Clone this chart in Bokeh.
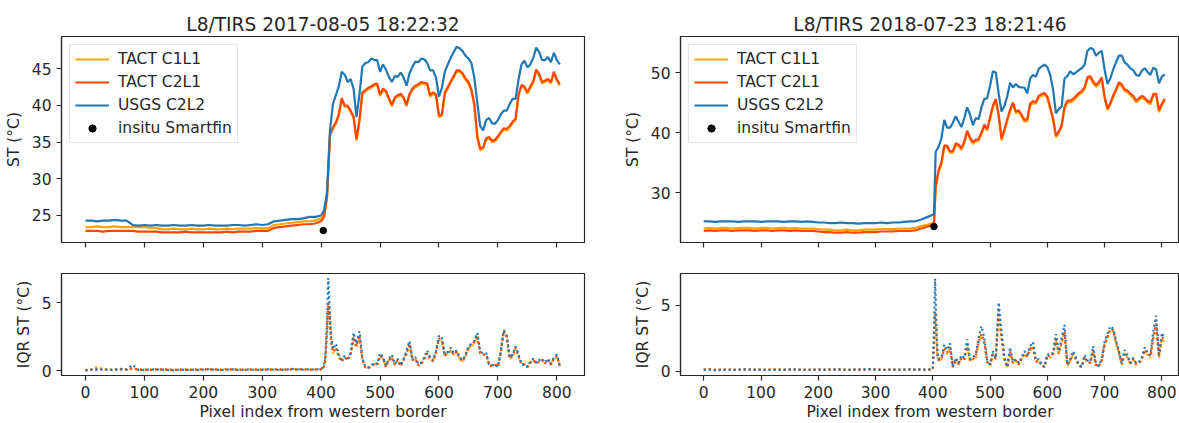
from bokeh.plotting import figure
from bokeh.models import Range1d, FixedTicker, Legend, LegendItem
from bokeh.layouts import row, column
from bokeh.embed import file_html
from bokeh.resources import INLINE

FONT = "DejaVu Sans"
C1 = "#FFA500"   # TACT C1L1
C2 = "#FF4500"   # TACT C2L1
CU = "#1f77b4"   # USGS C2L2
INK = "#262626"

titles = ["L8/TIRS 2017-08-05 18:22:32", "L8/TIRS 2018-07-23 18:21:46"]
labels = ["TACT C1L1", "TACT C2L1", "USGS C2L2", "insitu Smartfin"]
x_ticks = [0, 100, 200, 300, 400, 500, 600, 700, 800]

# ---------------- left scene (2017-08-05) : ST ----------------
L_x = list(range(0, 401, 10)) + list(range(405, 806, 5))
L_usgs = [24.3, 24.3, 24.2, 24.3, 24.3, 24.4, 24.3, 24.3, 23.7, 23.6,
          23.7, 23.6, 23.7, 23.6, 23.6, 23.7, 23.6, 23.6, 23.7, 23.6,
          23.6, 23.7, 23.6, 23.6, 23.6, 23.7, 23.7, 23.6, 23.7, 23.8,
          23.7, 23.8, 24.2, 24.3, 24.4, 24.5, 24.5, 24.6, 24.8, 24.8,
          25.0,
          25.7, 28.2, 36.6, 40.2, 41.4, 42.6, 44.6, 44.2, 43.2, 43.6,
          42.3, 38.4, 41.5, 45.3, 45.8, 45.9, 46.4, 46.2, 46.2, 44.6,
          45.6, 44.9, 43.9, 43.2, 44.0, 43.9, 44.5, 43.8, 42.7, 44.4,
          45.3, 46.0, 45.9, 46.4, 46.3, 45.8, 44.8, 44.8, 43.8, 41.2,
          42.4, 44.6, 45.6, 46.5, 47.3, 48.0, 47.8, 47.4, 46.8, 46.4,
          45.8, 43.8, 40.4, 37.2, 36.6, 38.0, 38.3, 37.6, 37.5, 38.0,
          38.8, 39.3, 39.3, 40.2, 40.9, 40.9, 43.5, 45.6, 46.1, 45.2,
          45.6, 46.5, 47.9, 47.3, 46.2, 46.2, 46.6, 45.9, 47.2, 46.2,
          45.6]
L_c2l1 = [22.9, 22.9, 22.9, 22.8, 22.9, 22.9, 22.9, 22.9, 22.9, 22.8,
          22.8, 22.8, 22.8, 22.7, 22.7, 22.7, 22.7, 22.8, 22.7, 22.7,
          22.7, 22.7, 22.7, 22.7, 22.8, 22.7, 22.8, 22.8, 22.8, 22.9,
          22.9, 22.9, 23.3, 23.4, 23.5, 23.6, 23.7, 23.8, 23.8, 23.9,
          24.2,
          24.8, 27.5, 36.1, 37.0, 37.7, 38.8, 41.0, 40.0, 40.0, 39.3,
          38.5, 35.4, 38.0, 41.8, 42.1, 42.4, 42.6, 42.9, 43.0, 41.5,
          42.3, 42.0, 41.0, 40.1, 41.1, 41.4, 41.6, 41.1, 40.1, 41.6,
          42.3, 42.7, 42.9, 43.2, 43.1, 43.0, 41.4, 41.8, 41.5, 38.6,
          38.8, 41.8, 42.5, 43.3, 44.0, 44.8, 44.8, 44.4, 43.7, 43.2,
          42.2, 40.2, 35.8, 34.1, 34.3, 35.5, 35.7, 35.2, 35.3, 35.8,
          36.4, 36.9, 36.8, 37.2, 37.8, 38.2, 41.5, 42.8, 42.6, 41.8,
          42.6, 43.3, 44.9, 44.3, 43.2, 43.4, 43.6, 43.2, 44.6, 43.6,
          42.9]
L_c1l1 = [23.4, 23.4, 23.5, 23.4, 23.4, 23.5, 23.4, 23.4, 23.4, 23.4,
          23.4, 23.3, 23.3, 23.1, 23.1, 23.2, 23.1, 23.1, 23.2, 23.1,
          23.1, 23.2, 23.1, 23.1, 23.2, 23.1, 23.2, 23.2, 23.2, 23.3,
          23.2, 23.3, 23.7, 23.8, 23.9, 24.0, 24.1, 24.2, 24.2, 24.3,
          24.6,
          25.0, 27.6, 35.9, 36.8, 37.5, 38.6, 40.8, 39.8, 39.8, 39.1,
          38.3, 35.2, 37.8, 41.6, 41.9, 42.2, 42.4, 42.7, 42.8, 41.3,
          42.1, 41.8, 40.8, 39.9, 40.9, 41.2, 41.4, 40.9, 39.9, 41.4,
          42.1, 42.5, 42.7, 43.0, 42.9, 42.8, 41.2, 41.6, 41.3, 38.4,
          38.6, 41.6, 42.3, 43.1, 43.8, 44.6, 44.6, 44.2, 43.5, 43.0,
          42.0, 40.0, 35.6, 33.9, 34.1, 35.3, 35.5, 35.0, 35.1, 35.6,
          36.2, 36.7, 36.6, 37.0, 37.6, 38.0, 41.3, 42.6, 42.4, 41.6,
          42.4, 43.1, 44.7, 44.1, 43.0, 43.2, 43.4, 43.0, 44.4, 43.4,
          42.7]
L_insitu_x = [403.6]
L_insitu_y = [22.94]

# ---------------- right scene (2018-07-23) : ST ----------------
R_x = list(range(0, 401, 10)) + [402] + list(range(405, 806, 5))
R_usgs = [25.2, 25.2, 25.1, 25.2, 25.2, 25.2, 25.1, 25.2, 25.2, 25.2,
          25.1, 25.2, 25.2, 25.2, 25.1, 25.2, 25.2, 25.1, 25.2, 25.1,
          25.0, 25.0, 24.9, 24.9, 25.0, 24.9, 24.9, 24.8, 24.9, 24.9,
          24.9, 25.0, 24.9, 25.0, 25.0, 25.1, 25.2, 25.2, 25.5, 25.9,
          26.3, 26.4,
          36.8, 37.6, 39.0, 42.1, 40.8, 40.8, 41.6, 42.7, 41.8, 40.9,
          42.4, 44.2, 43.0, 41.2, 42.4, 42.2, 44.2, 45.6, 45.7, 47.8,
          50.2, 50.0, 46.5, 43.5, 44.4, 46.0, 48.3, 47.5, 48.1, 47.6,
          47.5, 47.5, 46.5, 49.0, 49.6, 49.3, 50.6, 51.0, 51.3, 50.9,
          49.6, 47.2, 43.2, 43.9, 44.3, 49.0, 49.4, 50.2, 49.7, 50.0,
          50.4, 50.7, 51.3, 53.6, 54.1, 53.9, 52.8, 53.3, 53.6, 50.5,
          48.1, 49.0, 50.5, 51.7, 52.8, 52.8, 51.7, 51.3, 50.7, 50.4,
          49.6, 49.4, 50.3, 50.7, 50.1, 49.6, 50.8, 50.5, 48.2, 49.3,
          49.7]
R_c2l1 = [23.6, 23.7, 23.6, 23.7, 23.7, 23.6, 23.7, 23.7, 23.7, 23.6,
          23.7, 23.7, 23.6, 23.7, 23.7, 23.6, 23.7, 23.6, 23.6, 23.6,
          23.5, 23.4, 23.4, 23.3, 23.3, 23.4, 23.3, 23.3, 23.4, 23.4,
          23.4, 23.5, 23.5, 23.5, 23.6, 23.6, 23.6, 23.7, 24.0, 24.3,
          24.6, 24.6,
          31.0, 33.7, 35.0, 37.8, 37.8, 36.9, 36.9, 38.2, 38.0, 37.4,
          38.5, 40.3, 39.2, 38.4, 38.8, 38.9, 40.0, 41.3, 40.6, 42.5,
          44.5, 45.6, 43.0, 39.0, 40.5, 42.2, 43.8, 45.0, 43.5, 43.7,
          43.0, 42.1, 42.2, 44.8, 45.2, 45.1, 46.1, 46.4, 46.6, 46.0,
          44.2, 42.4, 39.5, 40.2, 41.2, 44.3, 45.3, 45.3, 45.6, 46.1,
          46.6, 46.9, 47.5, 49.2, 49.4, 48.5, 47.9, 48.4, 49.2, 46.0,
          44.0, 44.9, 46.2, 47.2, 48.4, 48.0, 47.2, 47.0, 46.5, 46.1,
          45.3, 45.7, 46.1, 45.8, 45.3, 45.0, 46.4, 46.5, 43.7, 44.8,
          45.6]
R_c1l1 = [24.0, 24.1, 24.0, 24.1, 24.1, 24.0, 24.1, 24.1, 24.1, 24.0,
          24.1, 24.1, 24.0, 24.1, 24.1, 24.0, 24.1, 24.0, 24.0, 24.0,
          23.9, 23.8, 23.8, 23.7, 23.7, 23.8, 23.7, 23.7, 23.8, 23.8,
          23.8, 23.9, 23.9, 23.9, 24.0, 24.0, 24.0, 24.1, 24.4, 24.6,
          24.9, 24.9,
          30.8, 33.4, 34.7, 37.5, 37.5, 36.6, 36.6, 37.9, 37.7, 37.1,
          38.2, 40.0, 38.9, 38.1, 38.5, 38.6, 39.7, 41.0, 40.3, 42.2,
          44.2, 45.3, 42.7, 38.7, 40.2, 41.9, 43.5, 44.7, 43.2, 43.4,
          42.7, 41.8, 41.9, 44.5, 44.9, 44.8, 45.8, 46.1, 46.3, 45.7,
          43.9, 42.1, 39.2, 39.9, 40.9, 44.0, 45.0, 45.0, 45.3, 45.8,
          46.3, 46.6, 47.2, 48.9, 49.1, 48.2, 47.6, 48.1, 48.9, 45.7,
          43.7, 44.6, 45.9, 46.9, 48.1, 47.7, 46.9, 46.7, 46.2, 45.8,
          45.0, 45.4, 45.8, 45.5, 45.0, 44.7, 46.1, 46.2, 43.4, 44.5,
          45.3]
R_insitu_x = [402.0]
R_insitu_y = [24.33]

# ---------------- left scene : IQR ----------------
LI_x = list(range(0, 401, 10)) + [404, 407, 410, 412, 414, 417] + list(range(420, 806, 5))
LI_usgs = [0.05, 0.08, 0.1, 0.12, 0.08, 0.1, 0.15, 0.12, 0.45, 0.08,
           0.08, 0.1, 0.12, 0.1, 0.08, 0.05, 0.1, 0.08, 0.1, 0.08,
           0.1, 0.12, 0.1, 0.08, 0.1, 0.12, 0.08, 0.1, 0.1, 0.08,
           0.1, 0.12, 0.1, 0.08, 0.1, 0.15, 0.12, 0.1, 0.12, 0.1,
           0.15,
           0.3, 1.0, 3.5, 6.8, 5.0, 2.5,
           1.6, 2.0, 1.2, 0.8, 1.1, 0.9, 1.3, 2.8, 2.0, 2.9,
           0.9, 0.3, 0.25, 0.4, 0.6, 0.5, 1.3, 1.0, 0.4, 0.9,
           1.2, 0.5, 0.9, 0.4, 0.9, 1.5, 2.2, 0.9, 1.0, 0.5,
           0.6, 1.0, 1.5, 1.0, 0.8, 1.5, 2.6, 2.4, 1.2, 1.4,
           1.7, 1.3, 1.5, 1.0, 0.8, 1.2, 1.8, 2.0, 2.2, 2.8,
           1.4, 1.3, 1.3, 0.5, 0.4, 0.5, 0.3, 1.5, 3.0, 2.6,
           1.0, 1.2, 1.8, 1.2, 0.5, 0.5, 0.3, 0.7, 0.9, 0.6,
           0.8, 0.9, 0.6, 0.9, 0.5, 1.0, 1.2, 0.4]
LI_c2l1 = [0.05, 0.1, 0.15, 0.1, 0.08, 0.1, 0.12, 0.1, 0.2, 0.1,
           0.1, 0.08, 0.1, 0.12, 0.1, 0.08, 0.1, 0.1, 0.08, 0.1,
           0.12, 0.1, 0.1, 0.08, 0.12, 0.1, 0.1, 0.08, 0.1, 0.1,
           0.08, 0.1, 0.12, 0.1, 0.1, 0.12, 0.1, 0.12, 0.1, 0.1,
           0.12,
           0.2, 0.8, 3.0, 5.0, 4.2, 2.2,
           1.4, 1.7, 1.1, 0.7, 1.0, 0.8, 1.2, 2.5, 1.8, 2.6,
           0.8, 0.25, 0.2, 0.35, 0.5, 0.45, 1.1, 0.9, 0.3, 0.8,
           1.0, 0.45, 0.8, 0.35, 0.8, 1.3, 2.0, 0.8, 0.9, 0.4,
           0.5, 0.9, 1.3, 0.9, 0.7, 1.4, 2.4, 2.2, 1.1, 1.3,
           1.5, 1.2, 1.4, 0.9, 0.7, 1.1, 1.7, 1.9, 2.1, 2.6,
           1.3, 1.2, 1.2, 0.45, 0.35, 0.45, 0.3, 1.4, 2.9, 2.5,
           0.9, 1.1, 1.7, 1.1, 0.45, 0.45, 0.3, 0.6, 0.8, 0.55,
           0.7, 0.8, 0.55, 0.8, 0.45, 0.9, 1.1, 0.35]
LI_c1l1 = [0.08, 0.12, 0.3, 0.15, 0.1, 0.12, 0.1, 0.12, 0.15, 0.1,
           0.1, 0.12, 0.15, 0.1, 0.12, 0.1, 0.08, 0.12, 0.1, 0.12,
           0.1, 0.15, 0.12, 0.1, 0.15, 0.1, 0.12, 0.1, 0.12, 0.1,
           0.12, 0.1, 0.12, 0.1, 0.12, 0.1, 0.15, 0.12, 0.1, 0.12,
           0.1,
           0.2, 0.7, 2.8, 4.6, 4.0, 2.0,
           1.3, 1.6, 1.0, 0.7, 1.0, 0.8, 1.1, 2.3, 1.7, 2.5,
           0.8, 0.3, 0.2, 0.35, 0.5, 0.45, 1.0, 0.9, 0.35, 0.8,
           1.0, 0.5, 0.8, 0.4, 0.8, 1.2, 1.9, 0.8, 0.9, 0.45,
           0.5, 0.9, 1.3, 0.9, 0.7, 1.3, 2.3, 2.1, 1.1, 1.3,
           1.5, 1.2, 1.4, 0.9, 0.7, 1.1, 1.6, 1.8, 2.0, 2.5,
           1.3, 1.2, 1.2, 0.5, 0.4, 0.5, 0.35, 1.3, 3.0, 2.5,
           0.9, 1.0, 1.6, 1.1, 0.5, 0.5, 0.3, 0.6, 0.8, 0.6,
           0.7, 0.8, 0.6, 0.8, 0.5, 0.9, 1.0, 0.4]

# ---------------- right scene : IQR ----------------
RI_x = list(range(0, 401, 10)) + [402, 404, 406, 408] + list(range(410, 806, 5))
RI_usgs = [0.08, 0.1, 0.05, 0.08, 0.1, 0.08, 0.1, 0.12, 0.1, 0.08,
           0.1, 0.08, 0.1, 0.08, 0.1, 0.1, 0.12, 0.08, 0.1, 0.08,
           0.1, 0.08, 0.1, 0.12, 0.1, 0.08, 0.1, 0.1, 0.12, 0.15,
           0.1, 0.08, 0.1, 0.1, 0.08, 0.1, 0.12, 0.1, 0.12, 0.1,
           0.15,
           3.0, 7.0, 4.0, 1.5,
           0.9, 1.0, 2.0, 1.6, 2.1, 0.3, 1.0, 0.6, 1.2, 1.0,
           2.4, 0.9, 1.0, 1.3, 2.5, 3.4, 2.5, 0.8, 0.5, 1.5,
           1.0, 5.2, 3.0, 1.0, 0.3, 1.8, 0.7, 0.9, 0.6, 1.0,
           1.5, 1.2, 1.9, 2.2, 0.8, 0.9, 0.5, 0.3, 1.3, 1.2,
           1.4, 2.8, 1.5, 2.5, 3.5, 0.5, 0.9, 1.5, 1.0, 0.5,
           0.3, 1.2, 0.8, 0.7, 1.9, 0.5, 0.4, 0.9, 2.2, 2.8,
           3.4, 3.2, 2.3, 1.5, 0.6, 1.6, 1.2, 0.6, 1.0, 0.6,
           0.7, 1.0, 1.8, 1.4, 1.2, 3.0, 4.2, 1.2, 2.9, 2.5]
RI_c2l1 = [0.1, 0.12, 0.08, 0.1, 0.12, 0.1, 0.08, 0.1, 0.12, 0.1,
           0.08, 0.1, 0.12, 0.1, 0.08, 0.12, 0.1, 0.1, 0.08, 0.1,
           0.12, 0.1, 0.08, 0.1, 0.12, 0.1, 0.08, 0.12, 0.1, 0.1,
           0.12, 0.1, 0.08, 0.12, 0.1, 0.1, 0.08, 0.1, 0.12, 0.1,
           0.12,
           2.2, 4.5, 3.0, 1.2,
           0.8, 0.9, 1.7, 1.4, 1.8, 0.3, 0.9, 0.5, 1.0, 0.9,
           2.0, 0.8, 0.9, 1.1, 2.2, 2.8, 2.2, 0.7, 0.45, 1.3,
           0.9, 4.6, 2.6, 0.9, 0.3, 1.5, 0.6, 0.8, 0.5, 0.9,
           1.3, 1.1, 1.7, 1.9, 0.7, 0.8, 0.45, 0.3, 1.2, 1.1,
           1.3, 2.4, 1.3, 2.2, 3.0, 0.45, 0.8, 1.3, 0.9, 0.45,
           0.3, 1.1, 0.7, 0.6, 1.6, 0.45, 0.35, 0.8, 2.0, 2.6,
           3.2, 3.1, 2.2, 1.4, 0.55, 1.4, 1.1, 0.55, 0.9, 0.55,
           0.6, 0.9, 1.6, 1.3, 1.1, 2.6, 3.6, 1.1, 2.6, 2.3]
RI_c1l1 = [0.12, 0.15, 0.1, 0.12, 0.1, 0.12, 0.1, 0.15, 0.12, 0.1,
           0.12, 0.1, 0.12, 0.15, 0.1, 0.12, 0.1, 0.12, 0.1, 0.12,
           0.1, 0.12, 0.15, 0.1, 0.12, 0.1, 0.12, 0.1, 0.12, 0.15,
           0.1, 0.12, 0.1, 0.12, 0.1, 0.12, 0.15, 0.12, 0.1, 0.12,
           0.1,
           2.0, 4.2, 2.8, 1.1,
           0.8, 0.9, 1.6, 1.3, 1.7, 0.3, 0.8, 0.5, 1.0, 0.8,
           1.9, 0.8, 0.9, 1.0, 2.1, 2.7, 2.1, 0.7, 0.4, 1.2,
           0.9, 4.3, 2.5, 0.9, 0.3, 1.4, 0.6, 0.8, 0.5, 0.9,
           1.2, 1.1, 1.6, 1.8, 0.7, 0.8, 0.4, 0.3, 1.1, 1.0,
           1.2, 2.3, 1.3, 2.1, 2.8, 0.4, 0.8, 1.2, 0.9, 0.4,
           0.3, 1.0, 0.7, 0.6, 1.5, 0.4, 0.35, 0.8, 1.9, 2.5,
           3.1, 3.0, 2.1, 1.3, 0.5, 1.3, 1.0, 0.5, 0.9, 0.5,
           0.6, 0.9, 1.5, 1.2, 1.0, 2.4, 3.4, 1.0, 2.4, 2.2]


def make_fig(width, height, xr, yr, yticks, mbl, mbr, mbt, mbb):
    p = figure(width=width, height=height, x_range=Range1d(*xr), y_range=Range1d(*yr),
               output_backend="svg", toolbar_location=None,
               min_border_left=mbl, min_border_right=mbr, min_border_top=mbt, min_border_bottom=mbb)
    p.grid.visible = False
    p.outline_line_color = INK
    p.outline_line_width = 1.2
    p.outline_line_alpha = 1.0
    p.background_fill_color = "white"
    p.border_fill_color = "white"
    p.xaxis.ticker = FixedTicker(ticks=x_ticks)
    p.yaxis.ticker = FixedTicker(ticks=yticks)
    for ax in (p.xaxis[0], p.yaxis[0]):
        ax.axis_line_color = INK
        ax.axis_line_width = 1.2
        ax.major_tick_line_color = INK
        ax.major_tick_line_width = 1.2
        ax.minor_tick_line_color = None
        ax.major_tick_out = 5
        ax.major_tick_in = 0
        ax.major_label_standoff = 5
        ax.major_label_text_font = FONT
        ax.major_label_text_font_size = "15.5px"
        ax.major_label_text_color = INK
        ax.axis_label_text_font = FONT
        ax.axis_label_text_font_size = "15.5px"
        ax.axis_label_text_font_style = "normal"
        ax.axis_label_text_color = INK
    p.yaxis.axis_label_standoff = 6
    return p


def top_panel(title, xs, c1, c2, cu, ix, iy, xr, yr, yticks, width, mbl, mbr):
    # frame: 36 px above, 206 px tall, 28 px below (ticks only, shared x with the IQR panel)
    p = make_fig(width, 270, xr, yr, yticks, mbl, mbr, 36, 28)
    p.title.text = title
    p.title.align = "center"
    p.title.text_font = FONT
    p.title.text_font_size = "18.6px"
    p.title.text_font_style = "normal"
    p.title.text_color = INK
    p.title.standoff = 3
    p.xaxis.major_label_text_color = None
    p.xaxis.major_label_standoff = 0
    p.yaxis.axis_label = "ST (°C)"
    r1 = p.line(xs, c1, line_color=C1, line_width=2.2)
    r2 = p.line(xs, c2, line_color=C2, line_width=2.2)
    r3 = p.line(xs, cu, line_color=CU, line_width=2.2)
    r5 = p.scatter(ix, iy, marker="circle", size=6.5, fill_color="black", line_color="black")
    r4 = p.scatter(ix, iy, marker="dash", angle=1.5708, size=6, line_color="black", line_width=2)
    legend = Legend(items=[LegendItem(label=labels[0], renderers=[r1]),
                           LegendItem(label=labels[1], renderers=[r2]),
                           LegendItem(label=labels[2], renderers=[r3]),
                           LegendItem(label=labels[3], renderers=[r5, r4])],
                    location="top_left", margin=8, padding=5, spacing=5,
                    glyph_width=34, glyph_height=18, label_height=18, label_standoff=9,
                    label_text_font=FONT, label_text_font_size="15.5px", label_text_color=INK,
                    border_line_color="#cccccc", border_line_width=1,
                    background_fill_color="white", background_fill_alpha=0.85)
    p.add_layout(legend)
    return p


def iqr_panel(xs, c1, c2, cu, xr, yr, width, mbl, mbr):
    # frame: 3 px above, 102 px tall, 48 px below
    p = make_fig(width, 153, xr, yr, [0, 5], mbl, mbr, 3, 48)
    p.yaxis.axis_label = "IQR ST (°C)"
    p.xaxis.axis_label = "Pixel index from western border"
    p.xaxis.axis_label_standoff = 2
    p.line(xs, c1, line_color=C1, line_width=2.2, line_dash="2 3")
    p.line(xs, c2, line_color=C2, line_width=2.2, line_dash="2 3")
    p.line(xs, cu, line_color=CU, line_width=2.2, line_dash="2 3")
    return p


LXR = (-40.7, 847.0)
RXR = (-40.6, 830.8)
p1 = top_panel(titles[0], L_x, L_c1l1, L_c2l1, L_usgs, L_insitu_x, L_insitu_y,
               LXR, (21.31, 49.41), [25, 30, 35, 40, 45], 620, 61, 36)
p2 = top_panel(titles[1], R_x, R_c1l1, R_c2l1, R_usgs, R_insitu_x, R_insitu_y,
               RXR, (21.67, 56.0), [30, 40, 50], 559, 44, 0)
p3 = iqr_panel(LI_x, LI_c1l1, LI_c2l1, LI_usgs, LXR, (-0.33, 7.13), 620, 61, 36)
p4 = iqr_panel(RI_x, RI_c1l1, RI_c2l1, RI_usgs, RXR, (-0.34, 7.39), 559, 44, 0)

layout = row(column(p1, p3), column(p2, p4))
open("out.html", "w").write(file_html(layout, INLINE))
